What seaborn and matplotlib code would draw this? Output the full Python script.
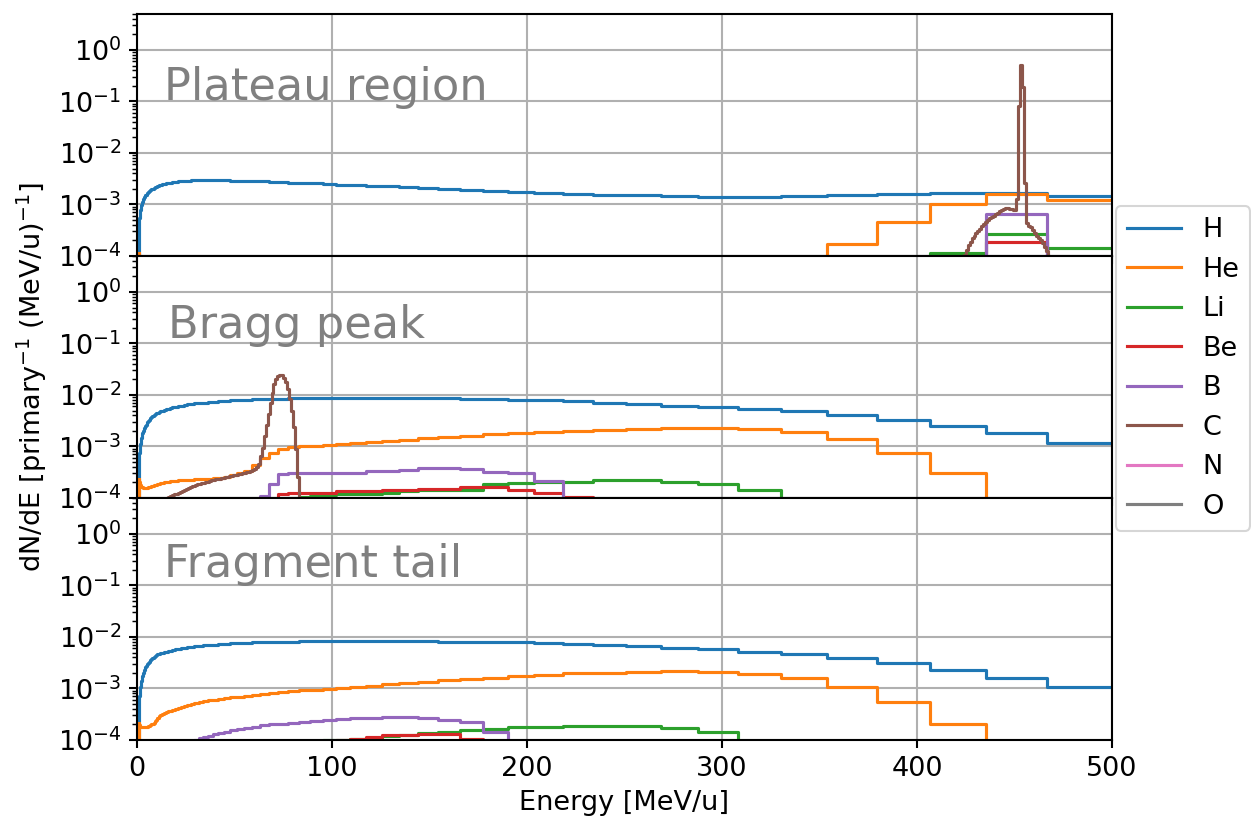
import numpy as np
import matplotlib
matplotlib.use("Agg")
import matplotlib.pyplot as plt
from matplotlib.ticker import LogLocator, NullFormatter, FixedLocator
from matplotlib.transforms import blended_transform_factory
import seaborn as sns

# ---------------------------------------------------------------------------
# Binning
# Light fragments: log-spaced bins of 0.03 dex ending at 500 MeV/u (90 bins from ~1 MeV/u)
# Carbon: 1 MeV/u wide linear bins
# ---------------------------------------------------------------------------
E_MAX = 500.0
N_LOG_BINS = 90
DEX_STEP = 0.03
C_BIN_WIDTH = 1.0

SPECIES = ["H", "He", "Li", "Be", "B", "C", "N", "O"]
REGIONS = ["Plateau region", "Bragg peak", "Fragment tail"]

# ---------------------------------------------------------------------------
# dN/dE per bin [primary^-1 (MeV/u)^-1]
# Full series: one value per log bin (ascending energy).
# Sparse series: list of (first log bin, values).
# ---------------------------------------------------------------------------
H_PLATEAU = [
    4.0e-4, 4.4e-4, 4.9e-4, 5.4e-4, 5.9e-4, 6.4e-4, 6.9e-4, 7.4e-4, 7.9e-4, 8.4e-4,
    8.9e-4, 9.4e-4, 9.9e-4, 1.04e-3, 1.09e-3, 1.14e-3, 1.20e-3, 1.26e-3, 1.32e-3, 1.38e-3,
    1.44e-3, 1.50e-3, 1.56e-3, 1.62e-3, 1.68e-3, 1.74e-3, 1.80e-3, 1.86e-3, 1.92e-3, 1.98e-3,
    2.04e-3, 2.10e-3, 2.16e-3, 2.22e-3, 2.28e-3, 2.34e-3, 2.40e-3, 2.46e-3, 2.52e-3, 2.57e-3,
    2.62e-3, 2.67e-3, 2.72e-3, 2.76e-3, 2.80e-3, 2.84e-3, 2.87e-3, 2.90e-3, 2.93e-3, 2.95e-3,
    2.97e-3, 2.98e-3, 2.98e-3, 2.97e-3, 2.96e-3, 2.94e-3, 2.92e-3, 2.90e-3, 2.87e-3, 2.84e-3,
    2.80e-3, 2.76e-3, 2.72e-3, 2.67e-3, 2.62e-3, 2.56e-3, 2.50e-3, 2.44e-3, 2.38e-3, 2.31e-3,
    2.24e-3, 2.16e-3, 2.08e-3, 2.00e-3, 1.92e-3, 1.84e-3, 1.76e-3, 1.68e-3, 1.61e-3, 1.54e-3,
    1.52e-3, 1.43e-3, 1.42e-3, 1.42e-3, 1.46e-3, 1.53e-3, 1.60e-3, 1.66e-3, 1.70e-3, 1.43e-3,
]
HE_PLATEAU = [(0, [1.15e-4, 1.10e-4, 1.05e-4]),
              (85, [1.7e-4, 4.5e-4, 1.02e-3, 1.62e-3, 1.23e-3])]
LI_PLATEAU = [(87, [1.15e-4, 2.7e-4, 1.41e-4])]
BE_PLATEAU = [(88, [1.9e-4])]
B_PLATEAU = [(88, [6.6e-4])]
N_PLATEAU = [(88, [6.0e-5])]
O_PLATEAU = [(88, [3.0e-5])]
C_PLATEAU_FIRST = 424  # MeV/u, lower edge of first carbon bin
C_PLATEAU = [
    1.05e-4, 1.30e-4, 1.60e-4, 1.90e-4, 2.20e-4, 2.50e-4, 2.80e-4, 3.10e-4, 3.40e-4, 3.80e-4,
    4.20e-4, 4.60e-4, 5.00e-4, 5.40e-4, 5.80e-4, 6.10e-4, 6.50e-4, 6.90e-4, 7.40e-4, 7.80e-4,
    8.20e-4, 8.50e-4, 8.50e-4, 8.30e-4, 8.10e-4, 7.90e-4, 7.80e-4, 1.30e-3, 8.0e-2, 5.1e-1,
    1.9e-1, 2.6e-3, 4.3e-4, 3.9e-4, 3.6e-4, 3.2e-4, 2.8e-4, 2.5e-4, 2.2e-4, 2.0e-4,
    1.75e-4, 1.50e-4, 1.25e-4, 1.02e-4,
]

H_BRAGG = [
    6.0e-4, 6.5e-4, 7.0e-4, 7.6e-4, 8.2e-4, 8.8e-4, 9.5e-4, 1.02e-3, 1.10e-3, 1.18e-3,
    1.27e-3, 1.37e-3, 1.48e-3, 1.58e-3, 1.69e-3, 1.80e-3, 1.91e-3, 2.02e-3, 2.14e-3, 2.26e-3,
    2.39e-3, 2.52e-3, 2.66e-3, 2.80e-3, 2.94e-3, 3.08e-3, 3.23e-3, 3.38e-3, 3.53e-3, 3.68e-3,
    3.84e-3, 4.00e-3, 4.20e-3, 4.40e-3, 4.55e-3, 4.70e-3, 4.85e-3, 5.00e-3, 5.15e-3, 5.30e-3,
    5.45e-3, 5.60e-3, 5.78e-3, 5.95e-3, 6.10e-3, 6.25e-3, 6.40e-3, 6.55e-3, 6.70e-3, 6.85e-3,
    7.00e-3, 7.15e-3, 7.30e-3, 7.45e-3, 7.60e-3, 7.75e-3, 7.90e-3, 8.00e-3, 8.10e-3, 8.20e-3,
    8.30e-3, 8.40e-3, 8.50e-3, 8.60e-3, 8.70e-3, 8.80e-3, 8.85e-3, 8.90e-3, 8.90e-3, 8.90e-3,
    8.85e-3, 8.80e-3, 8.70e-3, 8.60e-3, 8.45e-3, 8.30e-3, 8.10e-3, 7.85e-3, 7.55e-3, 7.15e-3,
    6.70e-3, 6.20e-3, 5.90e-3, 5.30e-3, 4.80e-3, 4.10e-3, 3.25e-3, 2.50e-3, 1.80e-3, 1.18e-3,
]
HE_BRAGG = [
    2.30e-4, 2.20e-4, 2.12e-4, 2.05e-4, 1.98e-4, 1.92e-4, 1.87e-4, 1.82e-4, 1.78e-4, 1.74e-4,
    1.71e-4, 1.68e-4, 1.66e-4, 1.64e-4, 1.62e-4, 1.61e-4, 1.60e-4, 1.59e-4, 1.58e-4, 1.57e-4,
    1.57e-4, 1.57e-4, 1.57e-4, 1.58e-4, 1.59e-4, 1.60e-4, 1.62e-4, 1.64e-4, 1.66e-4, 1.69e-4,
    1.72e-4, 1.75e-4, 1.78e-4, 1.82e-4, 1.86e-4, 1.90e-4, 1.94e-4, 1.98e-4, 2.02e-4, 2.05e-4,
    2.08e-4, 2.11e-4, 2.14e-4, 2.17e-4, 2.20e-4, 2.22e-4, 2.24e-4, 2.26e-4, 2.28e-4, 2.30e-4,
    2.32e-4, 2.34e-4, 2.37e-4, 2.40e-4, 2.45e-4, 2.60e-4, 2.80e-4, 3.00e-4, 3.40e-4, 4.40e-4,
    5.90e-4, 7.40e-4, 8.80e-4, 9.60e-4, 1.00e-3, 1.04e-3, 1.08e-3, 1.12e-3, 1.16e-3, 1.22e-3,
    1.28e-3, 1.35e-3, 1.45e-3, 1.53e-3, 1.62e-3, 1.72e-3, 1.82e-3, 1.92e-3, 2.02e-3, 2.10e-3,
    2.20e-3, 2.30e-3, 2.25e-3, 2.15e-3, 1.90e-3, 1.38e-3, 7.60e-4, 3.00e-4, 0.0, 0.0,
]
LI_BRAGG = [(63, [1.02e-4, 1.05e-4, 1.08e-4, 1.12e-4, 1.18e-4, 1.20e-4, 1.22e-4, 1.26e-4, 1.35e-4,
                  1.40e-4, 1.42e-4, 1.45e-4, 1.85e-4, 1.95e-4, 2.00e-4, 2.00e-4, 2.20e-4, 2.20e-4,
                  2.00e-4, 1.85e-4, 1.44e-4])]
BE_BRAGG = [(62, [1.20e-4, 1.27e-4, 1.27e-4, 1.27e-4, 1.27e-4, 1.37e-4, 1.37e-4, 1.37e-4, 1.44e-4,
                  1.44e-4, 1.52e-4, 1.52e-4, 1.66e-4, 1.66e-4, 1.44e-4, 1.27e-4, 1.05e-4])]
B_BRAGG = [(60, [1.10e-4, 1.85e-4, 2.90e-4, 3.00e-4, 3.00e-4, 3.00e-4, 3.10e-4, 3.10e-4, 3.10e-4,
                 3.40e-4, 3.40e-4, 3.55e-4, 3.80e-4, 3.80e-4, 3.60e-4, 3.20e-4, 3.10e-4, 2.10e-4])]
N_BRAGG = [(62, [8.0e-5, 8.0e-5, 7.0e-5])]
O_BRAGG = [(62, [5.0e-5])]
C_BRAGG_FIRST = 15
C_BRAGG = [
    1.02e-4, 1.06e-4, 1.10e-4, 1.14e-4, 1.18e-4, 1.22e-4, 1.27e-4, 1.32e-4, 1.38e-4, 1.44e-4,
    1.50e-4, 1.56e-4, 1.62e-4, 1.68e-4, 1.74e-4, 1.79e-4, 1.84e-4, 1.89e-4, 1.94e-4, 1.99e-4,
    2.04e-4, 2.09e-4, 2.14e-4, 2.19e-4, 2.24e-4, 2.29e-4, 2.34e-4, 2.39e-4, 2.44e-4, 2.49e-4,
    2.54e-4, 2.59e-4, 2.64e-4, 2.69e-4, 2.74e-4, 2.79e-4, 2.84e-4, 2.89e-4, 2.95e-4, 3.01e-4,
    3.08e-4, 3.16e-4, 3.26e-4, 3.38e-4, 3.52e-4, 3.70e-4, 3.95e-4, 4.60e-4, 6.50e-4, 9.50e-4,
    1.60e-3, 2.60e-3, 4.30e-3, 7.00e-3, 1.10e-2, 1.60e-2, 2.00e-2, 2.30e-2, 2.45e-2, 2.40e-2,
    2.15e-2, 1.75e-2, 1.30e-2, 8.50e-3, 5.00e-3, 2.40e-3, 9.00e-4, 2.60e-4,
]

H_TAIL = [
    5.5e-4, 6.0e-4, 6.6e-4, 7.2e-4, 7.8e-4, 8.5e-4, 9.3e-4, 1.00e-3, 1.07e-3, 1.15e-3,
    1.23e-3, 1.32e-3, 1.42e-3, 1.52e-3, 1.63e-3, 1.75e-3, 1.88e-3, 2.01e-3, 2.16e-3, 2.31e-3,
    2.48e-3, 2.62e-3, 2.74e-3, 2.86e-3, 2.99e-3, 3.12e-3, 3.26e-3, 3.41e-3, 3.56e-3, 3.72e-3,
    3.89e-3, 4.06e-3, 4.25e-3, 4.45e-3, 4.60e-3, 4.72e-3, 4.84e-3, 4.96e-3, 5.08e-3, 5.20e-3,
    5.33e-3, 5.46e-3, 5.60e-3, 5.73e-3, 5.87e-3, 6.01e-3, 6.15e-3, 6.30e-3, 6.45e-3, 6.60e-3,
    6.75e-3, 6.88e-3, 7.01e-3, 7.14e-3, 7.27e-3, 7.40e-3, 7.53e-3, 7.64e-3, 7.74e-3, 7.83e-3,
    7.92e-3, 8.00e-3, 8.08e-3, 8.16e-3, 8.24e-3, 8.32e-3, 8.40e-3, 8.45e-3, 8.45e-3, 8.42e-3,
    8.38e-3, 8.32e-3, 8.25e-3, 8.15e-3, 8.05e-3, 7.95e-3, 7.82e-3, 7.65e-3, 7.40e-3, 7.00e-3,
    6.60e-3, 6.20e-3, 5.80e-3, 5.20e-3, 4.60e-3, 3.90e-3, 3.10e-3, 2.30e-3, 1.60e-3, 1.05e-3,
]
HE_TAIL = [
    2.10e-4, 2.05e-4, 2.00e-4, 1.96e-4, 1.92e-4, 1.88e-4, 1.85e-4, 1.82e-4, 1.80e-4, 1.78e-4,
    1.77e-4, 1.76e-4, 1.75e-4, 1.75e-4, 1.75e-4, 1.75e-4, 1.75e-4, 1.75e-4, 1.75e-4, 1.75e-4,
    1.75e-4, 1.76e-4, 1.77e-4, 1.78e-4, 1.80e-4, 1.83e-4, 1.87e-4, 1.92e-4, 1.97e-4, 2.02e-4,
    2.07e-4, 2.15e-4, 2.30e-4, 2.50e-4, 2.70e-4, 2.90e-4, 3.10e-4, 3.25e-4, 3.40e-4, 3.50e-4,
    3.60e-4, 3.72e-4, 3.85e-4, 4.00e-4, 4.20e-4, 4.40e-4, 4.60e-4, 4.80e-4, 5.00e-4, 5.30e-4,
    5.55e-4, 5.70e-4, 5.85e-4, 6.00e-4, 6.20e-4, 6.45e-4, 6.70e-4, 6.95e-4, 7.20e-4, 7.50e-4,
    7.80e-4, 8.20e-4, 8.60e-4, 8.90e-4, 9.20e-4, 9.50e-4, 9.80e-4, 1.02e-3, 1.08e-3, 1.14e-3,
    1.20e-3, 1.28e-3, 1.36e-3, 1.44e-3, 1.52e-3, 1.62e-3, 1.74e-3, 1.86e-3, 1.96e-3, 2.00e-3,
    2.10e-3, 2.15e-3, 2.05e-3, 1.95e-3, 1.60e-3, 1.08e-3, 5.50e-4, 2.00e-4, 0.0, 0.0,
]
LI_TAIL = [(66, [1.0e-4, 1.02e-4, 1.05e-4, 1.10e-4, 1.20e-4, 1.25e-4, 1.35e-4, 1.45e-4, 1.55e-4,
                 1.65e-4, 1.75e-4, 1.80e-4, 1.90e-4, 1.90e-4, 1.90e-4, 1.70e-4, 1.45e-4])]
BE_TAIL = [(67, [1.0e-4, 1.05e-4, 1.15e-4, 1.25e-4, 1.25e-4, 1.30e-4, 1.30e-4, 1.05e-4])]
B_TAIL = [(49, [1.02e-4, 1.08e-4, 1.15e-4, 1.22e-4, 1.30e-4, 1.38e-4, 1.46e-4, 1.55e-4, 1.63e-4,
                1.72e-4, 1.82e-4, 1.92e-4, 2.00e-4, 2.08e-4, 2.18e-4, 2.28e-4, 2.38e-4, 2.48e-4,
                2.55e-4, 2.65e-4, 2.72e-4, 2.78e-4, 2.75e-4, 2.70e-4, 2.45e-4, 2.20e-4, 1.45e-4])]


# ---------------------------------------------------------------------------
# Bin helpers
# ---------------------------------------------------------------------------
log_edges = E_MAX * 10.0 ** (-DEX_STEP * np.arange(N_LOG_BINS, -1, -1))
log_centers = np.sqrt(log_edges[:-1] * log_edges[1:])
# an empty bin from 0 up to the first log edge closes the step line at low energy
log_hist_edges = [0.0] + log_edges.tolist()

c_edges = np.arange(0.0, E_MAX + C_BIN_WIDTH, C_BIN_WIDTH)
c_centers = 0.5 * (c_edges[:-1] + c_edges[1:])


def log_series(full=None, segments=()):
    w = np.zeros(N_LOG_BINS)
    if full is not None:
        w[:] = full
    for first, vals in segments:
        w[first:first + len(vals)] = vals
    return log_hist_edges, log_centers, w


def carbon_series(first_edge, vals):
    w = np.zeros(len(c_centers))
    i0 = int(round(first_edge / C_BIN_WIDTH))
    w[i0:i0 + len(vals)] = vals
    return c_edges.tolist(), c_centers, w


panels = [
    {
        "H": log_series(H_PLATEAU),
        "He": log_series(segments=HE_PLATEAU),
        "Li": log_series(segments=LI_PLATEAU),
        "Be": log_series(segments=BE_PLATEAU),
        "B": log_series(segments=B_PLATEAU),
        "C": carbon_series(C_PLATEAU_FIRST, C_PLATEAU),
        "N": log_series(segments=N_PLATEAU),
        "O": log_series(segments=O_PLATEAU),
    },
    {
        "H": log_series(H_BRAGG),
        "He": log_series(HE_BRAGG),
        "Li": log_series(segments=LI_BRAGG),
        "Be": log_series(segments=BE_BRAGG),
        "B": log_series(segments=B_BRAGG),
        "C": carbon_series(C_BRAGG_FIRST, C_BRAGG),
        "N": log_series(segments=N_BRAGG),
        "O": log_series(segments=O_BRAGG),
    },
    {
        "H": log_series(H_TAIL),
        "He": log_series(HE_TAIL),
        "Li": log_series(segments=LI_TAIL),
        "Be": log_series(segments=BE_TAIL),
        "B": log_series(segments=B_TAIL),
    },
]

# ---------------------------------------------------------------------------
# Figure
# ---------------------------------------------------------------------------
DPI = 150
plt.rcParams.update({
    "font.family": ["DejaVu Sans"],
    "font.size": 13,
    "axes.linewidth": 1.0,
    "xtick.major.width": 1.0,
    "ytick.major.width": 1.0,
    "ytick.minor.width": 0.7,
    "xtick.major.size": 4.0,
    "ytick.major.size": 4.0,
    "ytick.minor.size": 2.2,
})
palette = dict(zip(SPECIES, sns.color_palette("tab10", len(SPECIES))))

fig, axes = plt.subplots(3, 1, sharex=True, figsize=(1252 / DPI, 826 / DPI), dpi=DPI)
fig.subplots_adjust(left=137 / 1252, right=1112 / 1252, top=1 - 14 / 826,
                    bottom=1 - 740 / 826, hspace=0)

label_pos = {"Plateau region": (14.0, 0.645),
             "Bragg peak": (16.0, 0.661),
             "Fragment tail": (14.0, 0.674)}

for ax, region, series in zip(axes, REGIONS, panels):
    ax.set_yscale("log")
    for sp in SPECIES:
        if sp not in series:
            continue
        edges, centers, weights = series[sp]
        sns.histplot(x=centers, weights=weights, bins=edges, element="step", fill=False,
                     color=palette[sp], linewidth=1.5, label=sp, ax=ax)
    ax.set_xlim(0, E_MAX)
    ax.set_ylim(1e-4, 5.0)
    ax.yaxis.set_major_locator(FixedLocator([1e-4, 1e-3, 1e-2, 1e-1, 1e0]))
    ax.yaxis.set_minor_locator(LogLocator(base=10, subs=np.arange(2, 10), numticks=20))
    ax.yaxis.set_minor_formatter(NullFormatter())
    ax.grid(True, which="major", color="#b0b0b0", linewidth=1.0)
    ax.set_axisbelow(True)
    ax.set_ylabel("")
    ax.set_xlabel("")
    tx, ty = label_pos[region]
    ax.text(tx, ty, region, transform=blended_transform_factory(ax.transData, ax.transAxes),
            fontsize=21.5, color="gray", va="baseline", ha="left")

axes[-1].set_xticks([0, 100, 200, 300, 400, 500])
axes[-1].set_xlabel("Energy [MeV/u]")
axes[1].set_ylabel(r"dN/dE [primary$^{-1}$ (MeV/u)$^{-1}$]")

handles, labels = axes[0].get_legend_handles_labels()
fig.legend(handles, labels, loc="center left", bbox_to_anchor=(1116 / 1252, 1 - 368.5 / 826),
           borderaxespad=0.0, fontsize=13)

fig.savefig("out.png", dpi=DPI)
